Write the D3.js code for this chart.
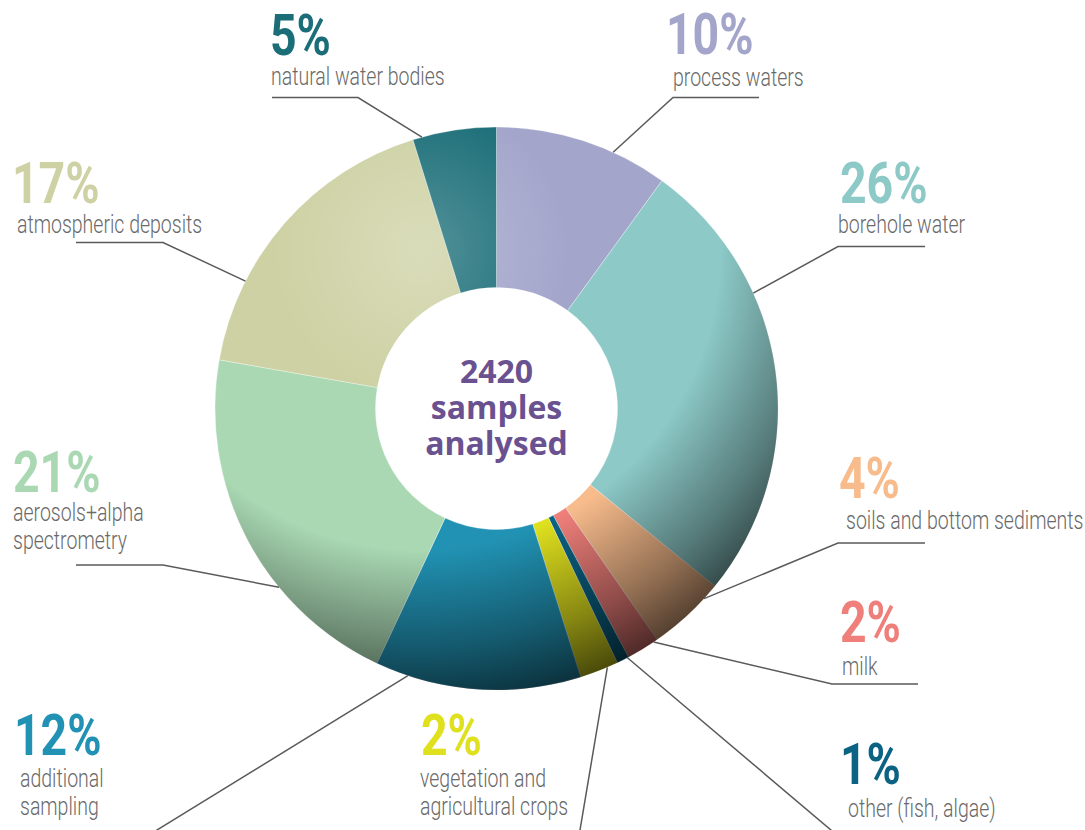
<!DOCTYPE html>
<html>
<head>
<meta charset="utf-8">
<style> body { margin: 0; background: #fff; } </style>
<script src="https://d3js.org/d3.v7.min.js"></script>
</head>
<body>
<svg id="chart" width="1085" height="830"></svg>
<script>
// sample counts per category, clockwise from 12 o'clock
const categories = ["process waters", "borehole water", "soils and bottom sediments", "milk",
    "other (fish, algae)", "vegetation and agricultural crops", "additional sampling",
    "aerosols+alpha spectrometry", "atmospheric deposits", "natural water bodies"];
const samples = [242, 626, 108, 46, 17, 54, 286, 503, 422, 116];
const labelLines = [["process waters"], ["borehole water"], ["soils and bottom sediments"], ["milk"],
    ["other (fish, algae)"], ["vegetation and", "agricultural crops"], ["additional", "sampling"],
    ["aerosols+alpha", "spectrometry"], ["atmospheric deposits"], ["natural water bodies"]];
const colors = ["#a3a5cb", "#8cc9c7", "#f8bc8c", "#ef7f7a", "#0b6384",
    "#dfe01e", "#2192b3", "#a9d8b3", "#cdd1a3", "#1b6e78"];

// where each label sits and where its leader line meets the ring
const layout = [
    {px: 666, py: 54, lx: 673, ly: 86, ex: 673, ey: 97.5, hx: 759, at: 0.68},
    {px: 840, py: 203, lx: 838, ly: 233, ex: 838, ey: 246.5, hx: 925, at: 0.32},
    {px: 839, py: 498, lx: 846, ly: 529, ex: 838, ey: 543, hx: 925, at: 0.21},
    {px: 840, py: 642, lx: 842, ly: 675, ex: 832, ey: 684, hx: 918, at: 0.13},
    {px: 840, py: 784, lx: 848, ly: 817, ex: 838, ey: 836, hx: 925, at: 0.1},
    {px: 421, py: 755, lx: 420, ly: 787, ex: 578, ey: 842, hx: 420, at: 0.28},
    {px: 14, py: 755, lx: 20, ly: 787, ex: 144, ey: 838, hx: 20, at: 0.84},
    {px: 13, py: 492, lx: 13, ly: 521, ex: 163, ey: 565, hx: 76, at: 0.34},
    {px: 12, py: 203, lx: 17, ly: 233, ex: 163, ey: 242.5, hx: 76, at: 0.27},
    {px: 270, py: 55, lx: 271, ly: 85, ex: 358, ey: 97.5, hx: 272, at: 0.11}
];

const cx = 496.5, cy = 408.5, R = 281.5, r = 121;
const total = d3.sum(samples);
const font = 'Roboto, "Noto Sans", sans-serif';
const squeeze = 0.75; // no condensed face installed, so narrow the glyphs by hand

const svg = d3.select("#chart");

// shading: light from the upper left, dark towards the lower right rim
const defs = svg.append("defs");
const grad = defs.append("radialGradient")
    .attr("id", "shade")
    .attr("gradientUnits", "userSpaceOnUse")
    .attr("cx", 420 - cx).attr("cy", 250 - cy).attr("r", 500);
[[0, "#fff", 0.25], [0.3, "#fff", 0], [0.6, "#000", 0], [0.8, "#000", 0.4], [0.95, "#000", 0.75]]
    .forEach(s => grad.append("stop")
        .attr("offset", s[0]).attr("stop-color", s[1]).attr("stop-opacity", s[2]));

const pie = d3.pie().sort(null).value(d => d)(samples);
const arc = d3.arc().innerRadius(r).outerRadius(R);

const g = svg.append("g").attr("transform", `translate(${cx},${cy})`);

g.selectAll("path.slice")
    .data(pie)
    .join("path")
    .attr("class", "slice")
    .attr("d", arc)
    .attr("fill", (d, i) => colors[i])
    .attr("stroke", "rgba(255,255,255,0.55)")
    .attr("stroke-width", 0.6);

g.append("path")
    .attr("d", arc({startAngle: 0, endAngle: 2 * Math.PI}))
    .attr("fill", "url(#shade)")
    .attr("pointer-events", "none");

// leader lines
svg.append("g")
    .selectAll("polyline")
    .data(pie)
    .join("polyline")
    .attr("points", (d, i) => {
        const L = layout[i];
        const a = d.startAngle + L.at * (d.endAngle - d.startAngle);
        const x = cx + R * Math.sin(a), y = cy - R * Math.cos(a);
        return [[L.hx, L.ey], [L.ex, L.ey], [x, y]].map(p => p.join(",")).join(" ");
    })
    .attr("fill", "none")
    .attr("stroke", "#5a5a5a")
    .attr("stroke-width", 1.5);

// labels
const lab = svg.append("g").selectAll("g").data(pie).join("g");

lab.append("text")
    .attr("transform", (d, i) => `translate(${layout[i].px},${layout[i].py}) scale(0.8,1)`)
    .attr("fill", (d, i) => colors[i])
    .style("font-family", font)
    .style("font-weight", "bold")
    .style("font-size", "58px")
    .text(d => Math.round(d.value / total * 100) + "%");

lab.each(function (d, i) {
    const L = layout[i];
    d3.select(this).selectAll("text.sub")
        .data(labelLines[i])
        .join("text")
        .attr("class", "sub")
        .attr("transform", (t, j) => `translate(${L.lx},${L.ly + j * 28}) scale(${squeeze},1)`)
        .attr("fill", "#6a6a6a")
        .style("font-family", font)
        .style("font-weight", 300)
        .style("font-size", "26px")
        .text(t => t);
});

// centre total
svg.append("text")
    .attr("x", cx)
    .attr("text-anchor", "middle")
    .attr("fill", "#6a5190")
    .style("font-family", '"Open Sans", "Noto Sans", sans-serif')
    .style("font-weight", "bold")
    .style("font-size", "32px")
    .selectAll("tspan")
    .data([total, "samples", "analysed"])
    .join("tspan")
    .attr("x", cx)
    .attr("y", (t, j) => 383 + j * 36)
    .text(t => t);
</script>
</body>
</html>
